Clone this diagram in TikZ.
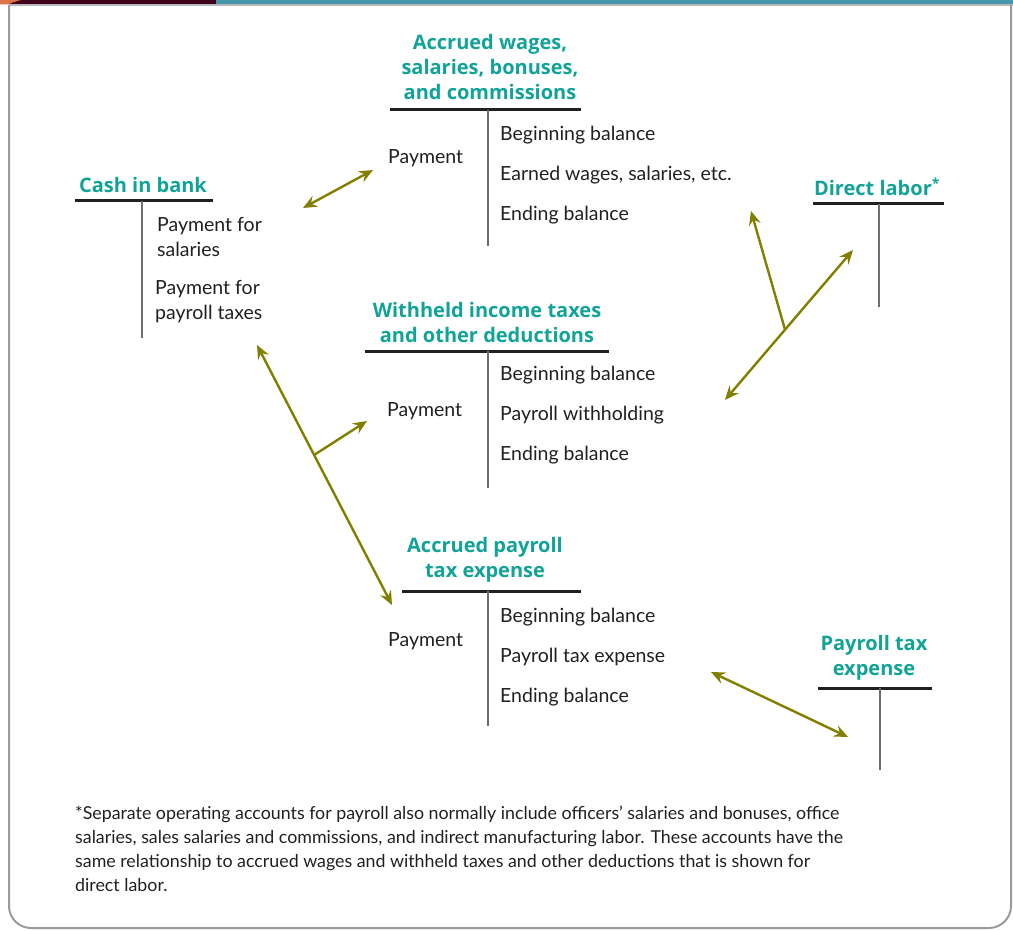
\documentclass[tikz,border=0pt]{standalone}
\usepackage{fontspec}
\setmainfont{Lato}
\newfontfamily\headfont{Open Sans}
\usetikzlibrary{arrows.meta,calc}
\definecolor{tealT}{HTML}{12A398}
\definecolor{olivearrow}{HTML}{827F00}
\definecolor{tline}{HTML}{231F20}
\definecolor{vline}{HTML}{6D6E71}
\definecolor{txt}{HTML}{231F20}
\definecolor{barmaroon}{HTML}{3F0019}
\definecolor{barteal}{HTML}{4598A9}
\definecolor{coral}{HTML}{E0704A}
\definecolor{framegray}{HTML}{9A9A9E}
\begin{document}
\begin{tikzpicture}[x=1pt,y=-1pt,
  title/.style={font=\headfont\fontsize{20}{25}\selectfont\bfseries, text=tealT, align=center, inner sep=0},
  entry/.style={font=\fontsize{19.5}{25}\selectfont, text=txt, anchor=west, inner sep=0, align=left},
  hbar/.style={line width=3pt, draw=tline},
  vbar/.style={line width=2pt, draw=vline},
  link/.style={line width=2.4pt, draw=olivearrow, {Stealth[length=14pt,width=12pt,inset=5pt]}-{Stealth[length=14pt,width=12pt,inset=5pt]}},
  branch/.style={line width=2.4pt, draw=olivearrow, -{Stealth[length=14pt,width=12pt,inset=5pt]}},
  note/.style={font=\fontsize{17.8}{24}\selectfont, text=txt, anchor=north west, inner sep=0, align=left}
]
\useasboundingbox (0,0) rectangle (1013,931);
% top bar and frame
\fill[barteal] (0,0) rectangle (1013,4.5);
\fill[barmaroon] (0,0) rectangle (216,4.5);
\fill[coral] (0,0) -- (21,0) .. controls (15,1.5) and (11,3) .. (8,4.5) -- (0,4.5) -- cycle;
\fill[framegray!70] (9,4.5) rectangle (1013,6);
\draw[framegray, line width=2pt, rounded corners=22pt] (9,5) -- (9,928) -- (1011,928) -- (1011,5);

% Cash in bank
\node[title] (cashT) at (143,185) {Cash in bank};
\draw[hbar] (75,201) -- (213,201);
\draw[vbar] (142,201) -- (142,338);
\node[entry] (cash1) at (157,237) {Payment for\\salaries};
\node[entry] (cash2) at (155,302) {Payment for\\payroll taxes};

% Accrued wages
\node[title] (awT) at (490,67) {Accrued wages,\\salaries, bonuses,\\and commissions};
\draw[hbar] (390,110) -- (581,110);
\draw[vbar] (488,110) -- (488,246);
\node[entry] (awP) at (388,158) {Payment};
\node[entry] (aw1) at (500,135) {Beginning balance};
\node[entry] (aw2) at (500,175) {Earned wages, salaries, etc.};
\node[entry] (aw3) at (500,215) {Ending balance};

% Withheld
\node[title] (whT) at (487,322) {Withheld income taxes\\and other deductions};
\draw[hbar] (365,351) -- (609,351);
\draw[vbar] (488,351) -- (488,488);
\node[entry] (whP) at (387,411) {Payment};
\node[entry] (wh1) at (500,375) {Beginning balance};
\node[entry] (wh2) at (500,415) {Payroll withholding};
\node[entry] (wh3) at (500,455) {Ending balance};

% Accrued payroll tax expense
\node[title] (apT) at (485,560) {Accrued payroll\\tax expense};
\draw[hbar] (402,591) -- (581,591);
\draw[vbar] (488,591) -- (488,726);
\node[entry] (apP) at (388,641) {Payment};
\node[entry] (ap1) at (500,617) {Beginning balance};
\node[entry] (ap2) at (500,657) {Payroll tax expense};
\node[entry] (ap3) at (500,697) {Ending balance};

% Direct labor
\node[title] (dlT) at (877,187) {Direct labor\textsuperscript{*}};
\draw[hbar] (813,204) -- (944,204);
\draw[vbar] (879,204) -- (879,307);

% Payroll tax expense
\node[title] (ptT) at (874,658) {Payroll tax\\expense};
\draw[hbar] (818,688) -- (932,688);
\draw[vbar] (880,688) -- (880,770);

% connector end points
\coordinate (c1a) at (303,208);
\coordinate (c1b) at (373,170);
\coordinate (c2a) at (257,345);
\coordinate (c2b) at (392,605);
\coordinate (c2m) at ($(c2a)!0.423!(c2b)$);
\coordinate (c2t) at (367,421);
\coordinate (c3a) at (725,400);
\coordinate (c3b) at (853,250);
\coordinate (c3m) at ($(c3a)!0.469!(c3b)$);
\coordinate (c3t) at (751,211);
\coordinate (c4a) at (711,672);
\coordinate (c4b) at (848,737);

\draw[link] (c1a) -- (c1b);
\draw[link] (c2a) -- (c2b);
\draw[branch] (c2m) -- (c2t);
\draw[link] (c3a) -- (c3b);
\draw[branch] (c3m) -- (c3t);
\draw[link] (c4a) -- (c4b);

% footnote
\node[note] (fn) at (75,806) {*Separate operating accounts for payroll also normally include officers’ salaries and bonuses, office\\
salaries, sales salaries and commissions, and indirect manufacturing labor. These accounts have the\\
same relationship to accrued wages and withheld taxes and other deductions that is shown for\\
direct labor.};
\end{tikzpicture}
\end{document}
